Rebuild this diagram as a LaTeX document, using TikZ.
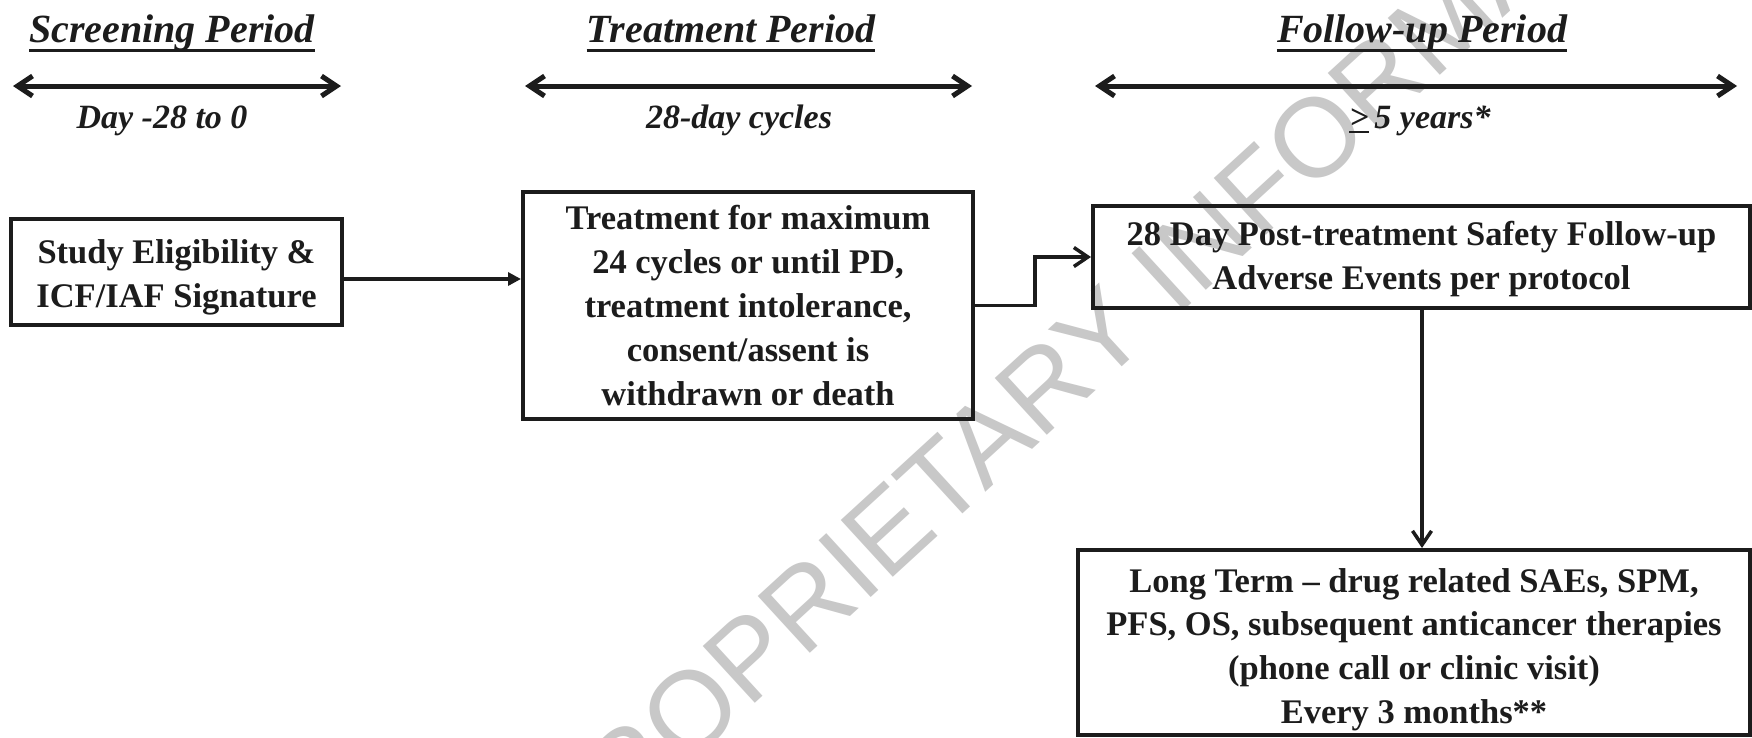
\documentclass[tikz,border=0pt]{standalone}
\usepackage{fontspec}
\setmainfont{Liberation Serif}
\newfontfamily\wmfont{Liberation Sans}
\usetikzlibrary{arrows.meta}
\definecolor{ink}{RGB}{28,28,28}
\definecolor{wmgray}{RGB}{200,200,200}
\newcommand\ttlfont{\fontsize{40}{48}\selectfont\bfseries\itshape}
\newcommand\subfont{\fontsize{34}{40}\selectfont\bfseries\itshape}
\newcommand\bxfont{\fontsize{34.5}{43.8}\selectfont\bfseries}
\begin{document}
\begin{tikzpicture}[x=1pt,y=-1pt,
  box/.style={draw=ink, line width=4pt, text=ink, align=center, inner sep=0pt, font=\bxfont},
  ttl/.style={anchor=base, inner sep=0pt, text=ink, font=\ttlfont},
  sub/.style={anchor=base, inner sep=0pt, text=ink, font=\subfont},
  uline/.style={draw=ink, line width=3pt},
  span/.style={draw=ink, line width=5pt, {Straight Barb[length=15pt,width=20pt]}-{Straight Barb[length=15pt,width=20pt]}},
  conn/.style={draw=ink, line width=3.5pt},
  barb/.style={-{Straight Barb[length=14pt,width=19pt]}},
  tri/.style={-{Triangle[length=13pt,width=13pt]}}
]
\useasboundingbox (0,0) rectangle (1752,737);
\fill[white] (0,0) rectangle (1752,737);

% watermark
\begin{scope}
\clip (0,0) rectangle (1752,737);
\node[text=wmgray, font=\wmfont\fontsize{112}{120}\selectfont, rotate=42.5, inner sep=0pt] (wm) at (1133,305) {PROPRIETARY INFORMATION};
\end{scope}

% period titles
\node[ttl] (t1) at (172,42) {Screening Period};
\node[ttl] (t2) at (731,42) {Treatment Period};
\node[ttl] (t3) at (1422,42) {Follow-up Period};
\foreach \t in {t1,t2,t3}{
  \draw[uline] ([yshift=-8.5pt]\t.base west) -- ([yshift=-8.5pt]\t.base east);
}

% period spans
\coordinate (s1a) at (13,86);   \coordinate (s1b) at (341,86);
\coordinate (s2a) at (525,86);  \coordinate (s2b) at (972,86);
\coordinate (s3a) at (1095,86); \coordinate (s3b) at (1737,86);
\draw[span] (s1a) -- (s1b);
\draw[span] (s2a) -- (s2b);
\draw[span] (s3a) -- (s3b);

% durations
\node[sub] (d1) at (162,128) {Day -28 to 0};
\node[sub] (d2) at (739,128) {28-day cycles};
\node[sub] (d3) at (1420,128) {\makebox[0pt][l]{\rule[-5pt]{0.57em}{2.5pt}}>\,5 years*};

% boxes
\node[box, minimum width=331pt, minimum height=106pt] (b1) at (176.5,272)
  {\rule{0pt}{34pt}Study Eligibility \&\\ICF/IAF Signature};
\node[box, minimum width=450pt, minimum height=227pt] (b2) at (748,305.5)
  {Treatment for maximum\\24 cycles or until PD,\\treatment intolerance,\\consent/assent is\\withdrawn or death};
\node[box, minimum width=657pt, minimum height=102pt] (b3) at (1421.5,257)
  {\rule{0pt}{28pt}28 Day Post-treatment Safety Follow-up\\Adverse Events per protocol};
\node[box, minimum width=672pt, minimum height=185pt] (b4) at (1414,642.5)
  {\rule{0pt}{38pt}Long Term -- drug related SAEs, SPM,\\PFS, OS, subsequent anticancer therapies\\(phone call or clinic visit)\\Every 3 months**};

% connectors
\coordinate (c1) at ([yshift=-7pt]b1.east);
\draw[conn, tri] (c1) -- (c1 -| b2.west);
\draw[conn, barb] (b2.east) -- ++(60,0) |- (b3.west);
\draw[conn, barb] (b3.south -| 1422,0) -- (b4.north -| 1422,0);
\end{tikzpicture}
\end{document}
